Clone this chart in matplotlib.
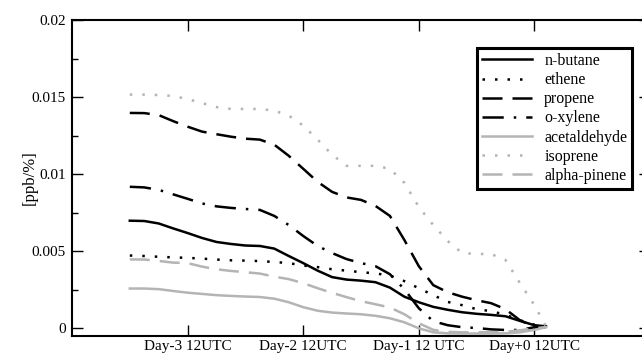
import numpy as np
import matplotlib
matplotlib.use('Agg')
import matplotlib.pyplot as plt
from matplotlib.ticker import MultipleLocator

plt.rcParams['font.family'] = ['Liberation Serif', 'DejaVu Serif']

# time in days relative to Day+0 12UTC
days = [-3.5, -3.375, -3.25, -3.125, -3.0, -2.875, -2.75, -2.625, -2.5, -2.375,
        -2.25, -2.125, -2.0, -1.875, -1.75, -1.625, -1.5, -1.375, -1.25, -1.125,
        -1.0, -0.875, -0.75, -0.625, -0.5, -0.375, -0.25, -0.125, 0.0, 0.1]

# values in units of 1e-4 ppb/%
n_butane = [69.8, 69.6, 68.0, 64.8, 61.8, 58.6, 56.0, 54.7, 53.7, 53.4,
            51.7, 46.9, 42.3, 37.4, 33.2, 31.6, 30.9, 29.9, 26.4, 20.5,
            16.9, 13.9, 12.0, 10.4, 9.4, 8.7, 7.8, 4.8, 2.0, 1.3]
ethene = [47.2, 46.9, 46.4, 46.0, 45.7, 45.2, 44.6, 44.1, 43.9, 43.6,
          43.0, 42.3, 40.7, 39.7, 38.3, 37.4, 36.4, 35.6, 34.2, 30.6,
          26.0, 21.5, 17.1, 15.0, 12.4, 11.1, 8.8, 5.2, 2.3, 1.3]
propene = [139.7, 139.6, 138.3, 134.4, 130.8, 127.6, 125.9, 124.3, 123.0, 122.4,
           119.1, 111.9, 103.5, 95.0, 88.5, 84.9, 83.3, 79.4, 72.9, 57.3,
           40.3, 28.0, 23.4, 20.5, 18.2, 16.3, 12.4, 5.2, 1.0, 0.7]
o_xylene = [91.8, 91.4, 89.8, 86.9, 84.0, 81.0, 79.1, 78.1, 77.4, 76.8,
            72.9, 67.0, 59.9, 53.4, 48.8, 44.9, 42.3, 40.3, 35.1, 25.4,
            13.0, 4.6, 2.0, 0.7, 0.2, -0.7, -1.1, -1.1, 0.7, 1.0]
acetaldehyde = [25.8, 25.8, 25.4, 24.2, 23.1, 22.3, 21.5, 21.0, 20.6, 20.3,
                19.2, 16.9, 13.7, 11.4, 10.2, 9.6, 9.1, 8.1, 6.5, 3.9,
                0.0, -2.6, -3.3, -3.4, -3.4, -3.4, -3.3, -2.6, -1.0, 0.7]
isoprene = [151.6, 151.6, 151.3, 150.7, 148.7, 146.1, 143.5, 142.3, 142.3, 142.3,
            141.2, 138.0, 131.5, 122.4, 112.6, 105.4, 105.4, 105.4, 103.5, 94.4,
            78.7, 67.0, 56.6, 48.8, 48.2, 48.2, 44.3, 29.3, 15.0, 1.3]
alpha_pinene = [44.7, 44.6, 43.7, 42.6, 42.3, 40.0, 38.3, 37.2, 36.4, 35.5,
                33.5, 31.9, 29.3, 26.0, 23.0, 20.2, 17.6, 15.6, 13.5, 9.1,
                3.3, -1.0, -2.3, -2.6, -2.6, -2.6, -2.3, -1.3, 0.0, 0.8]

xticks = [-3, -2, -1, 0]
xticklabels = ['Day-3 12UTC', 'Day-2 12UTC', 'Day-1 12 UTC', 'Day+0 12UTC']

gray = '#b4b4b4'
lw = 1.8
series = [
    ('n-butane', n_butane, 'black', None),
    ('ethene', ethene, 'black', (1, 4)),
    ('propene', propene, 'black', (8, 4)),
    ('o-xylene', o_xylene, 'black', (8.5, 4, 1, 4)),
    ('acetaldehyde', acetaldehyde, gray, None),
    ('isoprene', isoprene, gray, (1, 4)),
    ('alpha-pinene', alpha_pinene, gray, (8, 4)),
]

fig = plt.figure(figsize=(6.42, 3.56), dpi=100)
ax = fig.add_axes([72 / 642, 20 / 356, 578 / 642, 316 / 356])

x = np.array(days)
for name, vals, color, dash in series:
    line, = ax.plot(x, np.array(vals) * 1e-4, color=color, lw=lw, label=name)
    if dash is not None:
        line.set_dashes(dash)

ax.set_xlim(-4, 1)
ax.set_ylim(-0.0005, 0.02)
ax.set_xticks(xticks)
ax.set_xticklabels(xticklabels)
ax.yaxis.set_major_locator(MultipleLocator(0.005))
ax.yaxis.set_minor_locator(MultipleLocator(0.0025))
ax.yaxis.set_major_formatter(plt.FuncFormatter(lambda v, p: '%g' % round(v, 4)))

ax.tick_params(which='both', direction='in', top=True, right=True, labelsize=11, width=1)
ax.tick_params(which='major', length=8)
ax.tick_params(which='minor', length=4.3)
ax.tick_params(axis='x', pad=3)
ax.tick_params(axis='y', pad=4.5)
for s in ax.spines.values():
    s.set_linewidth(1.5)

ax.set_ylabel('[ppb/%]', fontsize=12)
ax.yaxis.set_label_coords(-0.06, 0.5)

leg = ax.legend(loc='upper right', bbox_to_anchor=(0.969, 0.911), borderaxespad=0,
                fontsize=11.5, fancybox=False, framealpha=1, edgecolor='black',
                handlelength=3.1, handletextpad=0.8, labelspacing=0.2, borderpad=0.3)
leg.get_frame().set_linewidth(2.2)

fig.savefig('out.png', dpi=100)
